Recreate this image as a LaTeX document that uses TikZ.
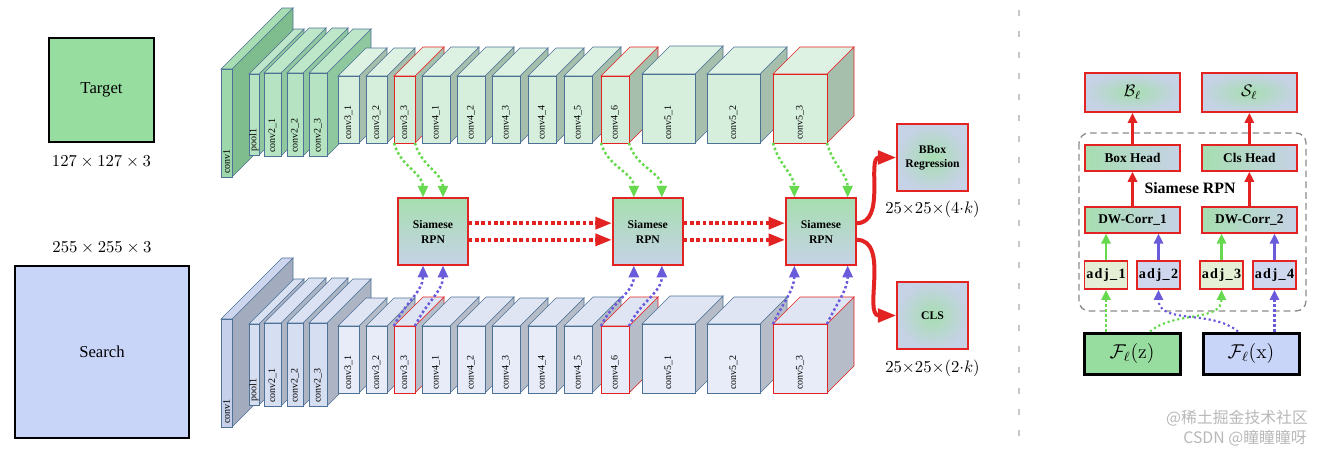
\documentclass[tikz,border=0pt]{standalone}
\usepackage{amssymb}
\usepackage{amsmath}
\usepackage[no-math]{fontspec}
\setmainfont{Liberation Serif}
\newfontfamily\cjkfont{Noto Sans CJK SC}
\usetikzlibrary{arrows.meta,positioning}

\definecolor{edgeblue}{HTML}{4E7196}
\definecolor{edgered}{HTML}{E32222}
\definecolor{g1front}{HTML}{9ED8AA}\definecolor{g1side}{HTML}{7FBC8E}\definecolor{g1top}{HTML}{A8DCB3}
\definecolor{g2front}{HTML}{B6E4C2}\definecolor{g2side}{HTML}{8FC79E}\definecolor{g2top}{HTML}{BDE7C8}
\definecolor{g3front}{HTML}{D6EFDD}\definecolor{g3side}{HTML}{A6BFAC}\definecolor{g3top}{HTML}{DDF2E3}
\definecolor{b1front}{HTML}{C6D0EA}\definecolor{b1side}{HTML}{A3ABBE}\definecolor{b1top}{HTML}{CDD6EE}
\definecolor{b2front}{HTML}{D6DEF1}\definecolor{b2side}{HTML}{ADB5C5}\definecolor{b2top}{HTML}{DAE1F2}
\definecolor{b3front}{HTML}{E7ECF8}\definecolor{b3side}{HTML}{B6BDC8}\definecolor{b3top}{HTML}{DFE5F3}
\definecolor{tgreen}{HTML}{98DDA0}
\definecolor{slav}{HTML}{C8D4F8}
\definecolor{rpngreen}{HTML}{A6DEB0}
\definecolor{rpnblue}{HTML}{C6D2E6}
\definecolor{arrgreen}{HTML}{66D94F}
\definecolor{arrpurple}{HTML}{6A5BDB}
\definecolor{adjyellow}{HTML}{E5EFD5}
\definecolor{adjblue}{HTML}{CED7EE}

\newcommand{\convblock}[9]{%
  \draw[draw=#7, fill=#6side] ({#1+#3},#2) -- ++(#5,-#5) -- ++(0,#4) -- ++(-#5,#5) -- cycle;
  \draw[draw=#7, fill=#6top] (#1,#2) -- ++(#5,-#5) -- ++(#3,0) -- ++(-#5,#5) -- cycle;
  \draw[draw=#7, fill=#6front] (#1,#2) rectangle ++(#3,#4);
  \node[convlabel] at ({#1+#3/2},{#2+#4-3}) {#8};
  \coordinate (#9-tl) at (#1,#2);
  \coordinate (#9-tr) at ({#1+#3},#2);
  \coordinate (#9-bl) at (#1,{#2+#4});
  \coordinate (#9-br) at ({#1+#3},{#2+#4});
}

\tikzset{
  convlabel/.style={rotate=90, anchor=west, inner sep=0pt, font=\fontsize{6}{7}\selectfont},
  inbox/.style={draw=black, line width=1.2pt},
  rpn/.style={draw=edgered, line width=0.9pt, top color=rpngreen, bottom color=rpnblue,
    minimum width=42pt, minimum height=40pt, inner sep=0pt, align=center,
    font=\fontsize{7}{9}\selectfont\bfseries},
  outbox/.style={draw=edgered, line width=0.9pt, inner color=rpngreen, outer color=rpnblue,
    minimum width=42.6pt, minimum height=40.2pt, inner sep=0pt, align=center,
    font=\fontsize{7}{8.4}\selectfont\bfseries},
  resbox/.style={draw=edgered, line width=1.1pt, inner color=rpngreen, outer color=rpnblue,
    minimum width=57pt, minimum height=23.4pt, inner sep=0pt},
  head/.style={draw=edgered, line width=1.1pt, left color=rpngreen, right color=rpnblue,
    minimum width=57pt, minimum height=15.6pt, inner sep=0pt, font=\fontsize{8}{9}\selectfont\bfseries},
  adjbox/.style={draw=edgered, line width=1.1pt, minimum width=25.8pt, minimum height=16.8pt,
    inner sep=0pt, font=\fontsize{8.5}{9}\selectfont\bfseries\addfontfeatures{LetterSpace=10}},
  featbox/.style={draw=black, line width=1.8pt, minimum width=57.6pt, minimum height=24.6pt, font=\large},
  dotred/.style={draw=edgered, line width=2.4pt, dash pattern=on 2.2pt off 1.6pt,
    -{Triangle[length=10pt,width=7pt]}},
  dotgreen/.style={draw=arrgreen, line width=1.5pt, dash pattern=on 1.5pt off 1.5pt,
    -{Triangle[length=7pt,width=6pt]}},
  dotpurple/.style={draw=arrpurple, line width=1.5pt, dash pattern=on 1.5pt off 1.5pt,
    -{Triangle[length=7pt,width=6pt]}},
  outred/.style={draw=edgered, line width=2.4pt, -{Triangle[length=11pt,width=8pt]}},
  headred/.style={draw=edgered, line width=1.6pt, -{Triangle[length=6pt,width=5.5pt]}},
  solgreen/.style={draw=arrgreen, line width=1.4pt, -{Triangle[length=6pt,width=5.5pt]}},
  solpurple/.style={draw=arrpurple, line width=1.4pt, -{Triangle[length=6pt,width=5.5pt]}},
  smallgreen/.style={draw=arrgreen, line width=1.3pt, dash pattern=on 1.3pt off 1.7pt,
    -{Triangle[length=6pt,width=5.5pt]}},
  smallpurple/.style={draw=arrpurple, line width=1.3pt, dash pattern=on 1.3pt off 1.7pt,
    -{Triangle[length=6pt,width=5.5pt]}},
  frame/.style={draw=black!45, line width=0.8pt, dash pattern=on 4pt off 2.5pt, rounded corners=6pt},
  divider/.style={draw=black!22, line width=1.2pt, dash pattern=on 3.6pt off 9pt},
  wmark/.style={font=\cjkfont\fontsize{9.5}{10}\selectfont, text=black!35, text opacity=0.8, inner sep=0pt}
}

\begin{document}
\begin{tikzpicture}[x=0.6pt,y=-0.6pt]
	\useasboundingbox (0,0) rectangle (1338,454);

	\node[inbox, fill=tgreen, minimum width=63pt, minimum height=62.4pt] (target) at (101.5,90) {Target};
	\node[below=4pt of target] (tsize) {$127\times127\times3$};
	\node[inbox, fill=slav, minimum width=104.4pt, minimum height=103.2pt] (search) at (102,352) {Search};
	\node[above=3pt of search] (ssize) {$255\times255\times3$};

	\foreach \row/\dy in {g/0,b/250}{
	\foreach \bx/\by/\bw/\bh/\bd/\bc/\be/\bt/\bn in {
		221/69/11/108/61/1/edgeblue/conv1/c1,
		249/74/10/81/45/2/edgeblue/pool1/p1,
		264/73/17/83/45/2/edgeblue/conv2\_1/c21,
		287/73/16/83/45/2/edgeblue/conv2\_2/c22,
		309/73/18/83/44/2/edgeblue/conv2\_3/c23,
		338/76/21/67/28/3/edgeblue/conv3\_1/c31,
		366/76/21/67/28/3/edgeblue/conv3\_2/c32,
		394/76/21/67/29/3/edgered/conv3\_3/c33,
		422/76/28/67/29/3/edgeblue/conv4\_1/c41,
		457/76/28/67/29/3/edgeblue/conv4\_2/c42,
		492/76/28/67/28/3/edgeblue/conv4\_3/c43,
		528/76/28/67/28/3/edgeblue/conv4\_4/c44,
		564/76/28/67/29/3/edgeblue/conv4\_5/c45,
		601/76/28/67/29/3/edgered/conv4\_6/c46,
		642/74/53/69/28/3/edgeblue/conv5\_1/c51,
		707/74/53/69/27/3/edgeblue/conv5\_2/c52,
		773/74/54/69/27/3/edgered/conv5\_3/c53}
		\convblock{\bx}{\by+\dy}{\bw}{\bh}{\bd}{\row\bc}{\be}{\bt}{\row\bn};
	}

	\node[rpn] (rpn1) at (433,231.5) {Siamese\\RPN};
	\node[rpn, right=86pt of rpn1] (rpn2) {Siamese\\RPN};
	\node[rpn, right=61pt of rpn2] (rpn3) {Siamese\\RPN};
	\node[outbox] (bbox) at (932.5,157.5) {BBox\\Regression};
	\node[below=2pt of bbox] (bsize) {${25}{\times}{25}{\times}(4{\cdot}k)$};
	\node[outbox] (cls) at (932.5,315.5) {CLS};
	\node[below=2.7pt of cls] (csize) {${25}{\times}{25}{\times}(2{\cdot}k)$};

	\foreach \a/\b in {rpn1/rpn2,rpn2/rpn3}
		\foreach \s in {5pt,-5pt}
			\draw[dotred] ([yshift=\s]\a.east) -- ([yshift=\s]\b.west);
	\draw[outred] ([yshift=5pt]rpn3.east) to[out=0,in=180] (bbox.west);
	\draw[outred] ([yshift=-5pt]rpn3.east) to[out=0,in=180] (cls.west);

	\foreach \l/\r/\n/\o in {c33/c33/rpn1/6pt,c46/c46/rpn2/8.4pt,c53/c53/rpn3/16pt}{
		\draw[dotgreen] (g\l-bl) to[out=-75,in=90] ([xshift=-\o]\n.north);
		\draw[dotgreen] (g\r-br) to[out=-75,in=90] ([xshift=\o]\n.north);
		\draw[dotpurple] (b\l-tl) to[out=65,in=-90] ([xshift=-\o]\n.south);
		\draw[dotpurple] (b\r-tr) to[out=65,in=-90] ([xshift=\o]\n.south);
	}

	\draw[divider] (1019,10) -- (1019,440);

	\draw[frame] (1079,133) rectangle (1306,311);
	\node[resbox] (bl) at (1132.5,92.5) {$\mathcal{B}_\ell$};
	\node[resbox, right=12pt of bl] (sl) {$\mathcal{S}_\ell$};
	\node[head, below=18.6pt of bl] (boxhead) {Box Head};
	\node[head, below=18.6pt of sl] (clshead) {Cls Head};
	\node[font=\fontsize{9.5}{11}\selectfont\bfseries] (rpnname) at (1190,188) {Siamese RPN};
	\node[head, below=20.4pt of boxhead] (dw1) {DW-Corr\_1};
	\node[head, below=20.4pt of clshead] (dw2) {DW-Corr\_2};
	\node[adjbox, fill=adjyellow] (adj1) at (1106,275) {adj\_1};
	\node[adjbox, fill=adjblue] (adj2) at (1158.5,275) {adj\_2};
	\node[adjbox, fill=adjyellow] (adj3) at (1221.5,275) {adj\_3};
	\node[adjbox, fill=adjblue] (adj4) at (1274.5,275) {adj\_4};
	\node[featbox, fill=tgreen] (fz) at (1132,353.5) {$\mathcal{F}_\ell(\mathrm{z})$};
	\node[featbox, fill=slav, right=12pt of fz] (fx) {$\mathcal{F}_\ell(\mathrm{x})$};

	\draw[headred] (boxhead.north) -- (bl.south);
	\draw[headred] (clshead.north) -- (sl.south);
	\draw[headred] (dw1.north) -- (boxhead.south);
	\draw[headred] (dw2.north) -- (clshead.south);
	\draw[solgreen] (adj1.north) -- (adj1.north |- dw1.south);
	\draw[solpurple] (adj2.north) -- (adj2.north |- dw1.south);
	\draw[solgreen] (adj3.north) -- (adj3.north |- dw2.south);
	\draw[solpurple] (adj4.north) -- (adj4.north |- dw2.south);
	\draw[smallgreen] (adj1.south |- fz.north) -- (adj1.south);
	\draw[smallgreen] ([xshift=10.8pt]fz.north) to[out=40,in=-90] (adj3.south);
	\draw[smallpurple] ([xshift=-7.8pt]fx.north) to[out=140,in=-90] (adj2.south);
	\draw[smallpurple] (adj4.south |- fx.north) -- (adj4.south);

	\node[wmark] (wm1) at (1237,418) {@稀土掘金技术社区};
	\node[wmark] (wm2) at (1245,438) {CSDN @瞳瞳瞳呀};
\end{tikzpicture}
\end{document}
